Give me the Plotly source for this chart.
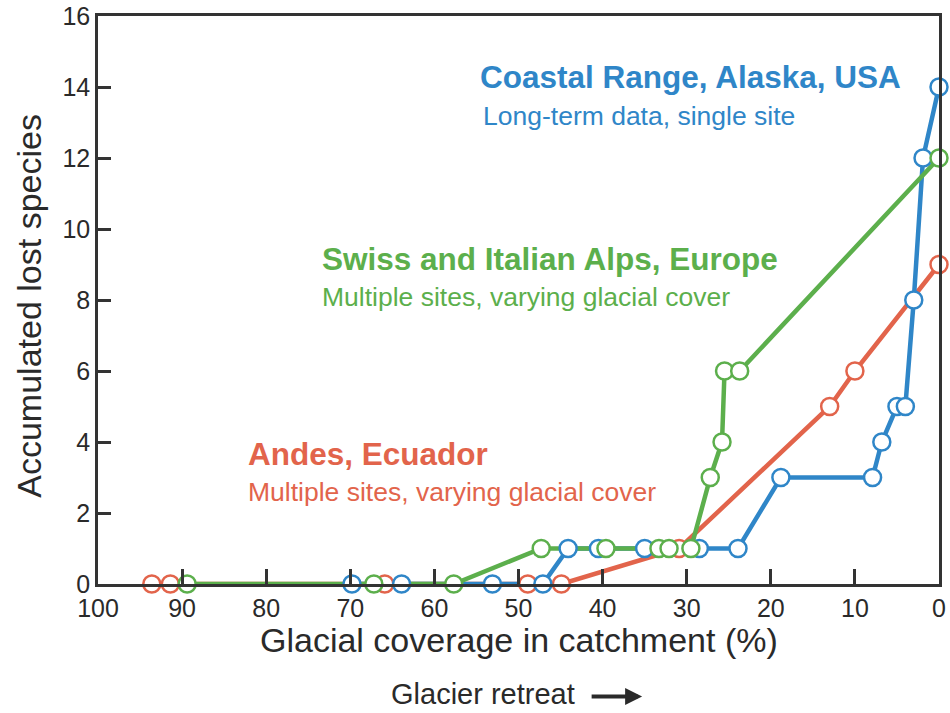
import plotly.graph_objects as go

# Glacial coverage (%) vs accumulated lost species, per region
alaska_cover = [69.8, 63.9, 53.1, 47.1, 44.1, 40.5, 35.0, 28.5, 23.9, 18.8, 7.9, 6.8, 5.0, 4.0, 3.0, 1.9, 0.0]
alaska_lost = [0, 0, 0, 0, 1, 1, 1, 1, 1, 3, 3, 4, 5, 5, 8, 12, 14]

andes_cover = [93.6, 91.4, 65.9, 48.9, 44.9, 30.9, 13.0, 10.0, 0.0]
andes_lost = [0, 0, 0, 0, 0, 1, 5, 6, 9]

alps_cover = [89.4, 67.2, 57.7, 47.3, 39.6, 33.3, 32.1, 29.5, 27.2, 25.8, 25.5, 23.7, 0.0]
alps_lost = [0, 0, 0, 1, 1, 1, 1, 1, 3, 4, 6, 6, 12]

x_ticks = [100, 90, 80, 70, 60, 50, 40, 30, 20, 10, 0]
y_ticks = [0, 2, 4, 6, 8, 10, 12, 14, 16]

BLUE = "#2F86C8"
RED = "#E2644B"
GREEN = "#5CAF4C"
INK = "#2a2a2a"
FONT = "Liberation Sans, Arial, sans-serif"

series = [
    (andes_cover, andes_lost, RED, "Andes, Ecuador"),
    (alaska_cover, alaska_lost, BLUE, "Coastal Range, Alaska, USA"),
    (alps_cover, alps_lost, GREEN, "Swiss and Italian Alps, Europe"),
]

fig = go.Figure()

# connecting lines first, then open-circle markers on top
for xs, ys, col, name in series:
    fig.add_trace(go.Scatter(x=xs, y=ys, mode="lines", name=name,
                             line=dict(color=col, width=4.5),
                             cliponaxis=False, showlegend=False, hoverinfo="skip"))
for xs, ys, col, name in series:
    fig.add_trace(go.Scatter(x=xs, y=ys, mode="markers", name=name,
                             marker=dict(symbol="circle", size=17, color="white",
                                         line=dict(color=col, width=2.5)),
                             cliponaxis=False, showlegend=False))

labels = [
    (54.8, 14.28, "<b>Coastal Range, Alaska, USA</b>", 31.5, BLUE),
    (54.5, 13.18, "Long-term data, single site", 26.5, BLUE),
    (73.6, 9.15, "<b>Swiss and Italian Alps, Europe</b>", 31.5, GREEN),
    (73.6, 8.08, "Multiple sites, varying glacial cover", 26.5, GREEN),
    (82.4, 3.66, "<b>Andes, Ecuador</b>", 31.5, RED),
    (82.4, 2.59, "Multiple sites, varying glacial cover", 26.5, RED),
]
for x, y, txt, size, col in labels:
    fig.add_annotation(x=x, y=y, xref="x", yref="y", text=txt, showarrow=False,
                       xanchor="left", yanchor="middle",
                       font=dict(family=FONT, size=size, color=col))

# axis titles and retreat arrow
fig.add_annotation(x=0.5, y=-0.099, xref="paper", yref="paper",
                   text="Glacial coverage in catchment (%)", showarrow=False,
                   xanchor="center", yanchor="middle",
                   font=dict(family=FONT, size=34, color=INK))
fig.add_annotation(x=-0.082, y=0.49, xref="paper", yref="paper",
                   text="Accumulated lost species", showarrow=False, textangle=-90,
                   xanchor="center", yanchor="middle",
                   font=dict(family=FONT, size=34, color=INK))
fig.add_annotation(x=0.569, y=-0.194, xref="paper", yref="paper",
                   text="Glacier retreat", showarrow=False,
                   xanchor="right", yanchor="middle",
                   font=dict(family=FONT, size=29, color=INK))
fig.add_annotation(x=0.647, y=-0.198, xref="paper", yref="paper",
                   ax=-52, ay=0, axref="pixel", ayref="pixel",
                   text="", showarrow=True, arrowhead=2, arrowsize=0.85,
                   arrowwidth=4, arrowcolor=INK)

axis_common = dict(showgrid=False, zeroline=False, showline=True, linecolor="#333",
                   linewidth=2.5, mirror=True, ticks="inside", tickcolor="#333",
                   tickwidth=2.5, automargin=False,
                   tickfont=dict(family=FONT, size=25, color=INK))

fig.update_xaxes(range=[100, 0], tickvals=x_ticks, ticklen=15, **axis_common)
fig.update_yaxes(range=[0, 16], tickvals=y_ticks, ticklen=13, **axis_common)

fig.update_layout(width=950, height=713,
                  margin=dict(l=98, r=11, t=16, b=129),
                  paper_bgcolor="white", plot_bgcolor="white",
                  showlegend=False)

fig.write_html("out.html")
